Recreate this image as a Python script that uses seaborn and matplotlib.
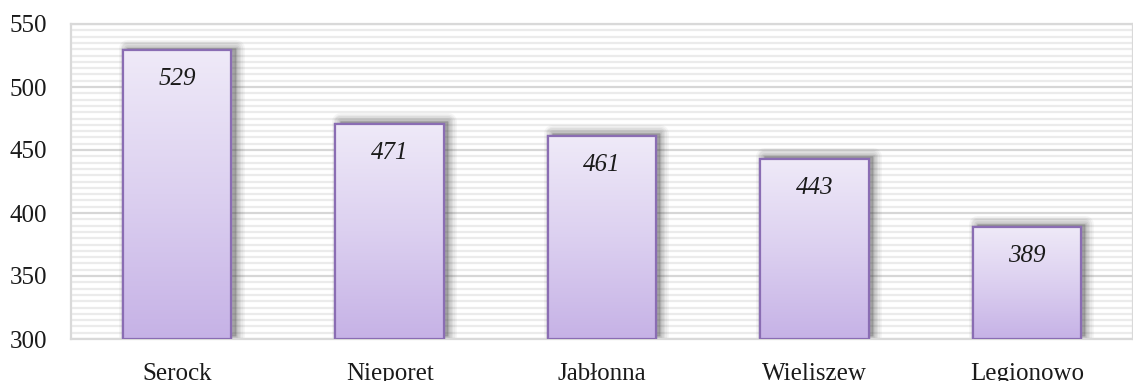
import numpy as np
import pandas as pd
import matplotlib
matplotlib.use("Agg")
import matplotlib.pyplot as plt
import matplotlib.transforms as mtransforms
from matplotlib.patches import Rectangle
from matplotlib.colors import LinearSegmentedColormap
from matplotlib.ticker import MultipleLocator
import seaborn as sns

# Values per commune
gminy = ["Serock", "Nieporet", "Jabłonna", "Wieliszew", "Legionowo"]
wartosci = [529, 471, 461, 443, 389]

y_min, y_max = 300, 550

sns.set_theme(style="white")
plt.rcParams["font.family"] = ["Liberation Serif", "DejaVu Serif"]

fig = plt.figure(figsize=(11.33, 3.81), dpi=100)
ax = fig.add_axes([71 / 1133, 1 - 339 / 381, 1 - 71 / 1133, (339 - 24) / 381])

df = pd.DataFrame({"gmina": gminy, "wartosc": wartosci})
sns.barplot(data=df, x="gmina", y="wartosc", ax=ax, width=0.51,
            color="#D9CCEE", edgecolor="#8A6DB3", linewidth=1.6, zorder=3)

ax.set_ylim(y_min, y_max)
ax.set_xlim(-0.5, len(gminy) - 0.5)

# Gridlines: fine stripes every 5, stronger every 50
ax.yaxis.set_major_locator(MultipleLocator(50))
ax.yaxis.set_minor_locator(MultipleLocator(5))
ax.grid(which="minor", axis="y", color="#EBEBEB", linewidth=1.6, zorder=0)
ax.grid(which="major", axis="y", color="#D6D6D6", linewidth=1.6, zorder=0)
ax.grid(which="major", axis="x", visible=False)
ax.set_axisbelow(True)

for side in ["top", "left", "right", "bottom"]:
    ax.spines[side].set_visible(True)
    ax.spines[side].set_color("#D9D9D9")
    ax.spines[side].set_linewidth(1.6)

cmap = LinearSegmentedColormap.from_list("lav", ["#EFEAF8", "#DCD0F0", "#C6B2E6"])
grad = np.linspace(0, 1, 256).reshape(-1, 1)

for patch, val in zip(ax.patches, wartosci):
    x0 = patch.get_x()
    w = patch.get_width()
    y0 = y_min
    h = val - y_min
    # soft drop shadow up and to the right
    for i, a in enumerate([0.05, 0.06, 0.07, 0.08, 0.09]):
        grow = (5 - i) * 1.2 / 72
        off = mtransforms.ScaledTranslation(3 / 72, 2 / 72, fig.dpi_scale_trans)
        sh = Rectangle((x0, y0), w, h, transform=ax.transData + off,
                       facecolor="#404040", edgecolor="#404040",
                       linewidth=grow * 72 * 2, alpha=a, zorder=2,
                       joinstyle="round", clip_on=True)
        ax.add_patch(sh)
    im = ax.imshow(grad, cmap=cmap, aspect="auto",
                   extent=[x0, x0 + w, y_min, val], origin="upper",
                   zorder=3.5)
    im.set_clip_path(patch)
    edge = Rectangle((x0, y0), w, h, facecolor="none", edgecolor="#8A6DB3",
                     linewidth=1.6, zorder=4)
    ax.add_patch(edge)
    ax.text(x0 + w / 2, val - 23, f"{val}", ha="center", va="center",
            fontsize=18, style="italic", color="#1a1a1a", zorder=5)

ax.set_aspect("auto")
ax.set_xlim(-0.5, len(gminy) - 0.5)
ax.set_ylim(y_min, y_max)

ax.set_xlabel("")
ax.set_ylabel("")
ax.tick_params(axis="y", which="both", length=0, labelsize=18, pad=17, colors="#1a1a1a")
ax.tick_params(axis="x", length=0, labelsize=18, pad=17.5, colors="#1a1a1a")

fig.savefig("out.png", dpi=100)
